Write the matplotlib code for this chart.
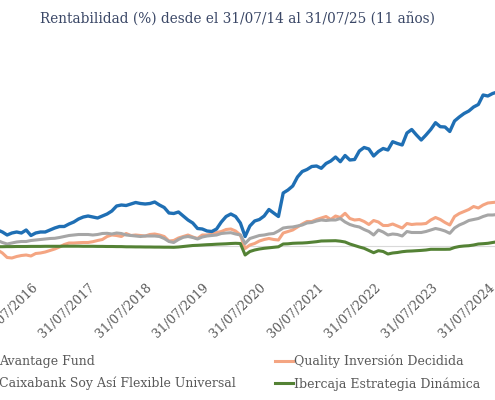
import matplotlib
matplotlib.use("Agg")
import matplotlib.pyplot as plt
from matplotlib.lines import Line2D

plt.rcParams['font.family'] = ['DejaVu Serif']

# meses desde 31/07/2014 (0) -> aqui solo la parte visible, del mes 16 al 121
meses = list(range(16, 122))

avantage = [16, 14, 11, 13, 14, 13, 16, 10.5, 13, 14,
            14, 16, 18, 19.5, 19.5, 22, 24, 27, 29, 30,
            29, 28, 30, 32, 35, 40, 41, 40.5, 42, 43.5,
            42.5, 42, 42.5, 44, 41, 38.5, 33, 32.5, 34, 30,
            26, 23, 17.5, 17, 15, 14.5, 17, 24, 29.5, 32,
            29.5, 23, 9.5, 20, 25, 26.5, 30, 36.5, 33, 29.5,
            53, 56, 60, 69, 74.5, 76.5, 79.5, 80, 77.7, 82.5,
            85, 89, 84.3, 90.5, 86, 86.5, 95, 98.5, 97, 90,
            94.5, 97.5, 96, 104.3, 102.5, 101, 113, 116.5, 111, 106,
            111, 116.5, 123.3, 119.3, 119, 114.5, 125, 129, 132.5, 135,
            139, 141.5, 151, 150, 152.5, 154]

quality = [-4, -7, -11.5, -12, -10.5, -9.5, -9, -10, -7.5, -7,
           -6, -4.5, -3, -1, 1.5, 3, 3, 3.3, 3.5, 3.5,
           4.3, 5.5, 6.5, 9.5, 11, 10.5, 9.5, 12.5, 10.5, 11,
           10.5, 10, 11.5, 12, 11, 9.5, 5, 5.5, 8, 9.5,
           11, 9, 7.5, 11, 11, 12, 13.5, 14.5, 16.5, 17,
           15, 11, -2.5, 1, 2.5, 5, 6.5, 7.5, 6.5, 6,
           13, 14.5, 16, 19, 22, 24.5, 24.5, 26.5, 28, 29.5,
           26.5, 30, 28.5, 32.7, 27.5, 26, 26.5, 24.5, 21.5, 25.5,
           24, 20.5, 20.5, 22, 20, 18, 22.5, 21.5, 22, 22,
           22.5, 26, 28.5, 26.5, 23.5, 21, 29.5, 32.5, 34.5, 36.5,
           39.5, 38, 41, 43, 43.5, 44]

caixabank = [5.5, 3.5, 2, 3, 4, 4.5, 4.5, 5.5, 6, 6.5,
             7, 7.5, 7.7, 8.5, 9.5, 10.5, 11, 11.5, 11.5, 11.5,
             11, 11.5, 12.5, 12.7, 12, 13, 12.5, 11, 10.5, 10,
             9.5, 10, 10, 10, 9.5, 7.5, 4.5, 3.5, 6.5, 8.7,
             9.5, 8.5, 7, 9, 10, 10.5, 11, 12.5, 13, 13.3,
             12, 11, 2.5, 7.5, 9, 10.5, 11, 12, 12.5, 15,
             18, 18.7, 19, 20, 21, 23, 23.5, 25, 26, 25.5,
             26, 26, 27.5, 24, 21.5, 20, 19, 16.5, 14.5, 11,
             16, 14, 11, 12, 11.5, 10, 14.5, 13.5, 13.5, 13.5,
             14.5, 16, 17.5, 16.5, 15, 12.7, 18, 21, 23, 25.5,
             26.5, 27.5, 29.5, 31, 31, 31.5]

ibercaja = [-0.7, -0.7, -0.6, -0.6, -0.5, -0.5, -0.5, -0.4, -0.4, -0.4,
            -0.3, -0.3, -0.3, -0.3, -0.2, -0.2, -0.2, -0.2, -0.3, -0.3,
            -0.3, -0.4, -0.4, -0.5, -0.5, -0.6, -0.6, -0.8, -0.8, -0.9,
            -0.9, -1.0, -1.0, -1.1, -1.1, -1.2, -1.2, -1.3, -1.0, -0.5,
            0, 0.5, 0.7, 1.0, 1.3, 1.5, 1.8, 2.0, 2.2, 2.5,
            2.7, 2.5, -9, -5.5, -4, -3, -2.3, -1.8, -1.3, -0.8,
            2, 2.2, 2.7, 2.9, 3, 3.3, 3.8, 4.3, 5, 5.1,
            5.2, 5.3, 4.8, 4, 2, 0.5, -1, -2.3, -4.5, -6.7,
            -4.7, -5.5, -8, -7, -6.5, -5.7, -5.2, -5, -4.7, -4.4,
            -4, -3.3, -3.3, -3.3, -3.3, -3.2, -1.5, -0.5, 0, 0.3,
            1, 2, 2.3, 2.7, 3.5, 4.3]

etiquetas_meses = [24, 36, 48, 60, 72, 84, 96, 108, 120]
etiquetas = ['31/07/2016', '31/07/2017', '31/07/2018', '31/07/2019', '31/07/2020',
             '30/07/2021', '31/07/2022', '31/07/2023', '31/07/2024']

nombres = ['Avantage Fund', 'Caixabank Soy Así Flexible Universal',
           'Quality Inversión Decidida', 'Ibercaja Estrategia Dinámica']
colores = ['#1f6fb4', '#a6a6a6', '#f4a582', '#548235']

fig = plt.figure(figsize=(4.95, 4.0), dpi=100)
# el grafico original esta recortado: los ejes ocupan todo el ancho
ax = fig.add_axes([0, 1 - 276 / 400, 1, 216 / 400])

ax.axhline(0, color='#d9d9d9', lw=0.8, zorder=1)
ax.plot(meses, quality, color=colores[2], lw=2.2, zorder=2)
ax.plot(meses, caixabank, color=colores[1], lw=2.2, zorder=3)
ax.plot(meses, ibercaja, color=colores[3], lw=2.2, zorder=4)
ax.plot(meses, avantage, color=colores[0], lw=2.4, zorder=5)

ax.set_xlim(16.5, 120.5)
ax.set_ylim(-30, 186)
ax.set_yticks([])
ax.set_xticks(etiquetas_meses)
ax.set_xticklabels(etiquetas, rotation=44, ha='right', va='center',
                   rotation_mode='anchor', color='#595959', fontsize=9)
ax.tick_params(axis='x', length=0, pad=7)
for s in ax.spines.values():
    s.set_visible(False)

fig.text(237 / 495, 1 - 20 / 400, 'Rentabilidad (%) desde el 31/07/14 al 31/07/25 (11 años)',
         ha='center', va='center', fontsize=9.8, color='#3a4766')

handles = [Line2D([], [], color=c, lw=2.2) for c in colores]
opts = dict(frameon=False, fontsize=9, handlelength=1.45, handletextpad=0.1,
            borderpad=0, borderaxespad=0, labelspacing=0.7, loc='upper left',
            labelcolor='#595959')
fig.legend(handles[:2], nombres[:2], bbox_to_anchor=(-20 / 495, 1 - 355 / 400), **opts)
fig.legend(handles[2:], nombres[2:], bbox_to_anchor=(275 / 495, 1 - 355 / 400), **opts)

fig.savefig('out.png', dpi=100)
